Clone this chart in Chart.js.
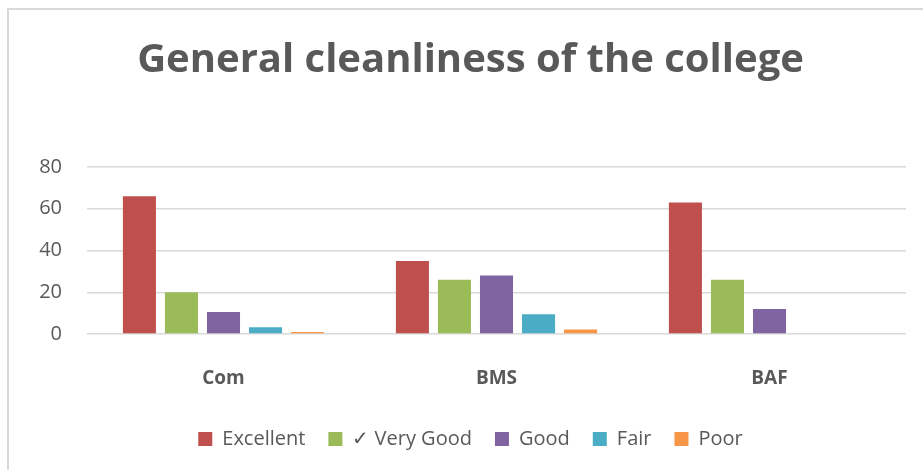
<!DOCTYPE html>
<html>
<head>
<meta charset="utf-8">
<script src="https://cdn.jsdelivr.net/npm/chart.js@4.4.1/dist/chart.umd.min.js"></script>
<style>
  html, body { margin: 0; padding: 0; background: #fff; overflow: hidden; }
  #frame { position: absolute; left: 7px; top: 8px; width: 940px; height: 490px; border: 2px solid #d9d9d9; }
  #wrap { position: absolute; left: 0; top: 0; width: 923px; height: 470px; }
</style>
</head>
<body>
<div id="frame"></div>
<div id="wrap"><canvas id="chart" width="923" height="470"></canvas></div>
<script>
// Data
const categories = ['Com', 'BMS', 'BAF'];
const excellent = [66, 35, 63];
const veryGood = [20, 26, 26];
const good = [10.5, 28, 12];
const fair = [3.2, 9.5, 0];
const poor = [1, 2.2, 0];
const yTicks = [0, 20, 40, 60, 80];

const grey = '#595959';
const font = "'Open Sans', 'Noto Sans', sans-serif";

const ctx = document.getElementById('chart').getContext('2d');

new Chart(ctx, {
    type: 'bar',
    data: {
        labels: categories,
        datasets: [
            { label: 'Excellent', data: excellent, backgroundColor: '#C0504D' },
            { label: '\u2713 Very Good', data: veryGood, backgroundColor: '#9BBB59' },
            { label: 'Good', data: good, backgroundColor: '#8064A2' },
            { label: 'Fair', data: fair, backgroundColor: '#4BACC6' },
            { label: 'Poor', data: poor, backgroundColor: '#F79646' }
        ]
    },
    options: {
        responsive: false,
        animation: false,
        devicePixelRatio: 1,
        categoryPercentage: 0.77,
        barPercentage: 0.786,
        layout: { padding: { left: 18, right: 0, top: 0, bottom: 11 } },
        scales: {
            x: {
                grid: { display: false },
                border: { display: false },
                ticks: { color: grey, font: { family: font, size: 19, weight: 'bold' }, padding: 25 },
                afterFit: (scale) => { scale.height = 72; }
            },
            y: {
                min: 0,
                max: 80,
                afterBuildTicks: (scale) => { scale.ticks = yTicks.map(v => ({ value: v })); },
                grid: { color: '#d9d9d9', lineWidth: 1.5, drawTicks: false },
                border: { display: false },
                ticks: { color: grey, font: { family: font, size: 20 }, padding: 25 },
                afterFit: (scale) => { scale.width = 69; }
            },
            // empty right-hand spacer so the plot ends where the original does
            yRight: {
                position: 'right',
                grid: { display: false },
                border: { display: false },
                ticks: { display: false },
                afterFit: (scale) => { scale.width = 17; }
            }
        },
        plugins: {
            title: {
                display: true,
                text: 'General cleanliness of the college',
                color: grey,
                font: { family: font, size: 40, weight: 'bold' },
                padding: { top: 37, bottom: 82 }
            },
            legend: {
                position: 'bottom',
                labels: {
                    color: grey,
                    font: { family: font, size: 20 },
                    boxWidth: 14,
                    boxHeight: 14,
                    padding: 23
                }
            },
            tooltip: { enabled: false }
        }
    }
});
</script>
</body>
</html>
